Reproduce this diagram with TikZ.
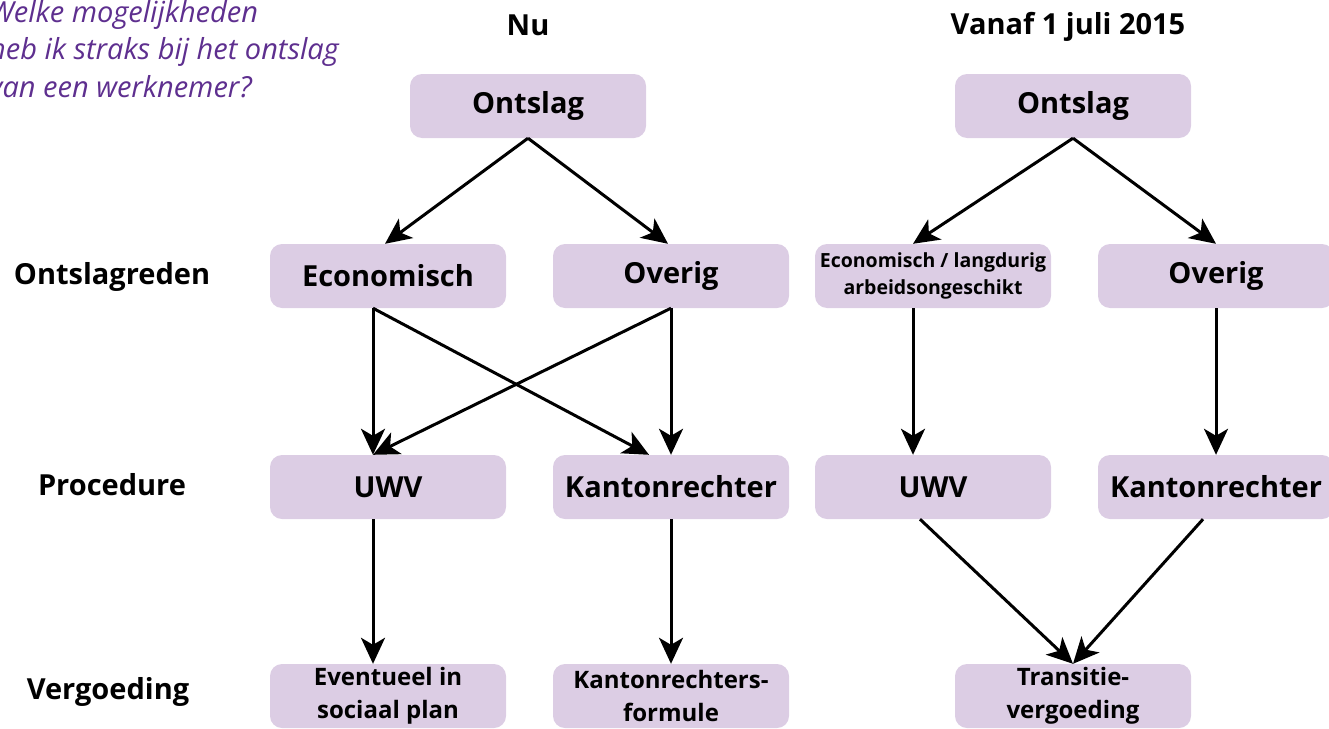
\documentclass[tikz,border=0pt]{standalone}
\usepackage{fontspec}
\setmainfont{Open Sans}
\usepackage{tikz}
\usetikzlibrary{arrows.meta,positioning}

\definecolor{lila}{HTML}{DCCDE4}
\definecolor{paars}{HTML}{5E2F8F}

\tikzset{
  box/.style={fill=lila,rounded corners=12pt,minimum width=236pt,minimum height=64pt,
    inner sep=0pt,font=\fontsize{29}{30}\selectfont\bfseries,align=center},
  smallbox/.style={box,font=\fontsize{19.5}{27}\selectfont\bfseries},
  midbox/.style={box,font=\fontsize{24}{33}\selectfont\bfseries},
  lbl/.style={font=\fontsize{29}{30}\selectfont\bfseries},
  pijl/.style={line width=3pt,-{Stealth[length=26pt,width=24pt,inset=7pt]}}
}

\begin{document}
\begin{tikzpicture}[x=1pt,y=-1pt]
      \useasboundingbox (0,0) rectangle (1329,728);

      % vraag linksboven
      \node[anchor=base west,align=left,text=paars,inner sep=0pt,
        font=\fontsize{29}{37.5}\selectfont\itshape] (q) at (-11,97)
        {Welke mogelijkheden\\heb ik straks bij het ontslag\\van een werknemer?};

      \node[lbl] (h1) at (528,25) {Nu};
      \node[lbl] (h2) at (1068,27) {Vanaf 1 juli 2015};

      \node[lbl] (r1) at (112,277) {Ontslagreden};
      \node[lbl] (r2) at (112,485) {Procedure};
      \node[lbl] (r3) at (108,692) {Vergoeding};

      % nu
      \node[box] (1) at (528,106) {Ontslag};
      \node[box] (2) at (388,276) {Economisch};
      \node[box, right of=2, node distance=283pt] (3) {Overig};
      \node[box] (4) at (388,487) {UWV};
      \node[box, right of=4, node distance=283pt] (5) {Kantonrechter};
      \node[midbox] (6) at (388,696) {Eventueel in\\sociaal plan};
      \node[midbox, right of=6, node distance=283pt] (7) {Kantonrechters-\\formule};

      % vanaf 1 juli 2015
      \node[box] (8) at (1073,106) {Ontslag};
      \node[smallbox] (9) at (933,276) {Economisch / langdurig\\arbeidsongeschikt};
      \node[box, right of=9, node distance=283pt] (10) {Overig};
      \node[box] (11) at (933,487) {UWV};
      \node[box, right of=11, node distance=283pt] (12) {Kantonrechter};
      \node[midbox] (13) at (1073,696) {Transitie-\\vergoeding};

      \draw[pijl] (1.south) -- ([xshift=-3pt]2.north);
      \draw[pijl] (1.south) -- ([xshift=-3pt]3.north);
      \draw[pijl] ([xshift=-15pt]2.south) -- ([xshift=-15pt]4.north);
      \draw[pijl] ([xshift=-15pt]2.south) -- ([xshift=-22pt]5.north);
      \draw[pijl] (3.south) -- ([xshift=-15pt]4.north);
      \draw[pijl] (3.south) -- (5.north);
      \draw[pijl] ([xshift=-15pt]4.south) -- ([xshift=-15pt]6.north);
      \draw[pijl] (5.south) -- (7.north);

      \draw[pijl] (8.south) -- ([xshift=-20pt]9.north);
      \draw[pijl] (8.south) -- (10.north);
      \draw[pijl] ([xshift=-20pt]9.south) -- ([xshift=-20pt]11.north);
      \draw[pijl] (10.south) -- (12.north);
      \draw[pijl] ([xshift=-13pt]11.south) -- (13.north);
      \draw[pijl] ([xshift=-13pt]12.south) -- (13.north);
    \end{tikzpicture}
\end{document}
